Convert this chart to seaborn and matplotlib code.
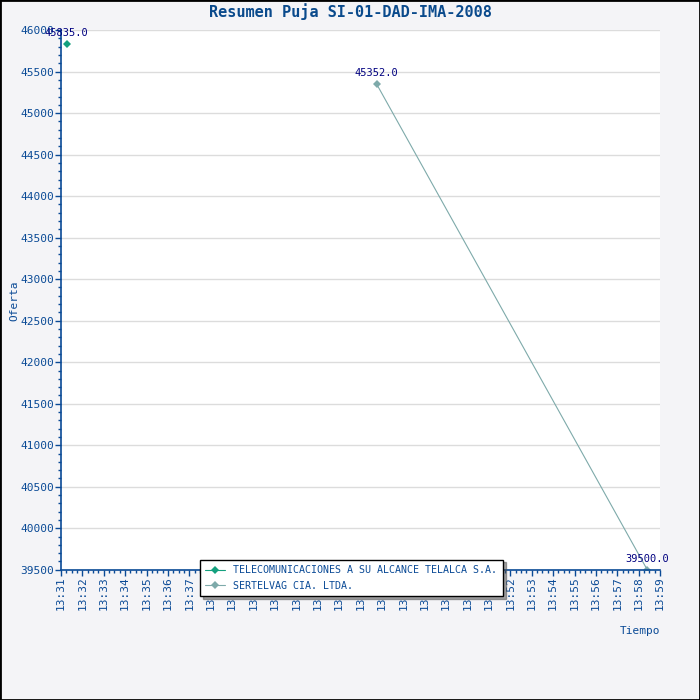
import pandas as pd
import seaborn as sns
import matplotlib
matplotlib.use("Agg")
from matplotlib import pyplot as plt
import matplotlib.dates as mdates

# bids
bidders = ["TELECOMUNICACIONES A SU ALCANCE TELALCA S.A.",
           "SERTELVAG CIA. LTDA.",
           "SERTELVAG CIA. LTDA."]
times = ["2008-01-01 13:31:16", "2008-01-01 13:45:45", "2008-01-01 13:58:24"]
offers = [45835.0, 45352.0, 39500.0]

colors = {"TELECOMUNICACIONES A SU ALCANCE TELALCA S.A.": "#14a07e",
          "SERTELVAG CIA. LTDA.": "#7eaaaa"}

df = pd.DataFrame({"Postor": bidders, "Tiempo": pd.to_datetime(times), "Oferta": offers})

sns.set_theme(style="white")
plt.rcParams["font.family"] = ["DejaVu Sans Mono", "DejaVu Sans"]
axis_blue = "#0a4a96"

fig = plt.figure(figsize=(7, 7), dpi=100, facecolor="#f4f4f7")
ax = fig.add_axes([0.087, 0.186, 0.856, 0.771])
ax.set_facecolor("white")

sns.lineplot(data=df, x="Tiempo", y="Oferta", hue="Postor", palette=colors,
             marker="D", markersize=4, markeredgewidth=0, linewidth=0.8, ax=ax)

for t, v in zip(df["Tiempo"], df["Oferta"]):
    ax.annotate(f"{v:.1f}", (t, v), xytext=(0, 4), textcoords="offset points",
                ha="center", va="bottom", fontsize=7.5, color="#000080")

start = pd.Timestamp("2008-01-01 13:31:00")
end = pd.Timestamp("2008-01-01 13:59:00")
ax.set_xlim(start, end)
ax.set_ylim(39500, 46000)
ax.set_yticks(range(39500, 46001, 500))
ax.yaxis.set_minor_locator(matplotlib.ticker.MultipleLocator(100))
ax.xaxis.set_major_locator(mdates.MinuteLocator())
ax.xaxis.set_minor_locator(mdates.SecondLocator(bysecond=[15, 30, 45]))
ax.xaxis.set_major_formatter(mdates.DateFormatter("%H:%M"))
plt.setp(ax.get_xticklabels(), rotation=90)

ax.grid(axis="y", color="#dcdcdc", linewidth=1)
ax.set_axisbelow(True)
for s in ["top", "right"]:
    ax.spines[s].set_visible(False)
for s in ["left", "bottom"]:
    ax.spines[s].set_color(axis_blue)
    ax.spines[s].set_linewidth(1.2)
ax.tick_params(which="major", direction="out", length=4, color=axis_blue, width=1,
               labelsize=8, labelcolor=axis_blue, left=True, bottom=True, pad=1)
ax.tick_params(which="minor", direction="out", length=2.5, color=axis_blue, width=1,
               left=True, bottom=True)

ax.set_xlabel("")
ax.set_ylabel("")
fig.text(0.02, 0.571, "Oferta", rotation=90, ha="center", va="center",
         fontsize=8, color=axis_blue)
fig.text(0.915, 0.098, "Tiempo", ha="center", va="center", fontsize=8, color=axis_blue)
fig.text(0.5, 0.983, "Resumen Puja SI-01-DAD-IMA-2008", ha="center", va="center",
         fontsize=11, fontweight="bold", color="#0a4a8c")

leg = ax.legend(loc="upper left", bbox_to_anchor=(0.232, 0.019), fontsize=7.2,
                frameon=True, fancybox=False, shadow=True, borderpad=0.55,
                handlelength=2.0, labelspacing=0.55, borderaxespad=0)
leg.get_frame().set_edgecolor("black")
leg.get_frame().set_linewidth(1)
for txt in leg.get_texts():
    txt.set_color(axis_blue)

fig.patches.append(plt.Rectangle((0, 0), 1, 1, transform=fig.transFigure,
                                 fill=False, edgecolor="black", linewidth=2))
fig.savefig("out.png", dpi=100, facecolor=fig.get_facecolor())
